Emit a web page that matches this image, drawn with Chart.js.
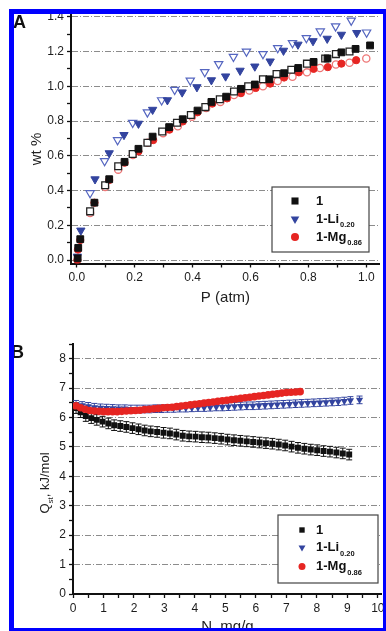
<!DOCTYPE html>
<html>
<head>
<meta charset="utf-8">
<script src="https://cdn.jsdelivr.net/npm/chart.js@4.4.1/dist/chart.umd.min.js"></script>
<style>
  html, body { margin: 0; padding: 0; background: #fff; }
  body { width: 386px; height: 631px; overflow: hidden; position: relative; }
  #chart-a { position: absolute; left: 0; top: 0; }
  #chart-b { position: absolute; left: 0; top: 305px; }
  .panel-label { position: absolute; font: bold 18px/18px "Liberation Sans", Arial, sans-serif; color: #111; }
  #frame { position: absolute; left: 9px; top: 9px; width: 369px; height: 614px; border: 5px solid #0000ff; pointer-events: none; }
</style>
</head>
<body>
<canvas id="chart-a" width="386" height="310"></canvas>
<canvas id="chart-b" width="386" height="340"></canvas>
<div class="panel-label" style="left:13px; top:13px;">A</div>
<div class="panel-label" style="left:11px; top:343px;">B</div>
<div id="frame"></div>
<script>
// ---- panel A : uptake (wt %) vs pressure (atm), filled = adsorption, open = desorption
const pAds1 = [0.003, 0.005, 0.012, 0.061, 0.112, 0.165, 0.213, 0.262, 0.319, 0.366, 0.417, 0.465, 0.516, 0.567, 0.615, 0.665, 0.716, 0.765, 0.818, 0.866, 0.914, 0.963, 1.013];
const wtAds1 = [0.01, 0.07, 0.12, 0.33, 0.465, 0.565, 0.64, 0.71, 0.765, 0.81, 0.86, 0.91, 0.94, 0.985, 1.01, 1.04, 1.075, 1.105, 1.14, 1.16, 1.195, 1.215, 1.235];
const pDes1 = [0.046, 0.098, 0.143, 0.193, 0.244, 0.295, 0.346, 0.394, 0.444, 0.494, 0.543, 0.592, 0.643, 0.69, 0.741, 0.795, 0.858, 0.895, 0.942];
const wtDes1 = [0.28, 0.43, 0.54, 0.61, 0.675, 0.74, 0.79, 0.835, 0.88, 0.925, 0.97, 1.0, 1.04, 1.07, 1.095, 1.13, 1.16, 1.185, 1.2];

const pAdsLi = [0.002, 0.014, 0.063, 0.112, 0.163, 0.213, 0.262, 0.313, 0.364, 0.415, 0.465, 0.514, 0.564, 0.615, 0.668, 0.714, 0.764, 0.816, 0.865, 0.914, 0.967];
const wtAdsLi = [0.02, 0.17, 0.465, 0.615, 0.72, 0.785, 0.865, 0.92, 0.965, 0.995, 1.035, 1.057, 1.09, 1.114, 1.143, 1.205, 1.24, 1.26, 1.274, 1.297, 1.307];
const pDesLi = [0.046, 0.096, 0.141, 0.193, 0.244, 0.293, 0.338, 0.392, 0.442, 0.49, 0.541, 0.586, 0.643, 0.694, 0.745, 0.793, 0.841, 0.894, 0.948, 1.001];
const wtDesLi = [0.385, 0.57, 0.69, 0.79, 0.85, 0.92, 0.98, 1.033, 1.082, 1.128, 1.17, 1.2, 1.186, 1.22, 1.249, 1.278, 1.316, 1.345, 1.378, 1.31];

const pAdsMg = [0.002, 0.004, 0.012, 0.061, 0.112, 0.165, 0.213, 0.264, 0.32, 0.366, 0.417, 0.468, 0.519, 0.567, 0.618, 0.668, 0.716, 0.767, 0.818, 0.867, 0.914, 0.965];
const wtAdsMg = [0.0, 0.06, 0.115, 0.33, 0.46, 0.56, 0.625, 0.69, 0.75, 0.797, 0.85, 0.9, 0.93, 0.96, 0.99, 1.015, 1.05, 1.08, 1.1, 1.11, 1.13, 1.15];
const pDesMg = [0.046, 0.098, 0.143, 0.194, 0.245, 0.298, 0.349, 0.398, 0.447, 0.496, 0.543, 0.596, 0.643, 0.694, 0.745, 0.795, 0.84, 0.895, 0.942, 1.0];
const wtDesMg = [0.27, 0.42, 0.52, 0.605, 0.675, 0.73, 0.77, 0.825, 0.875, 0.91, 0.95, 0.975, 1.0, 1.03, 1.055, 1.08, 1.105, 1.125, 1.135, 1.16];

// ---- panel B : isosteric heat Qst (kJ/mol) vs loading N (mg/g)
const n1 = [0.10, 0.25, 0.42, 0.60, 0.78, 0.97, 1.16, 1.35, 1.55, 1.75, 1.95, 2.15, 2.35, 2.55, 2.76, 2.97, 3.18, 3.39, 3.60, 3.81, 4.02, 4.23, 4.44, 4.65, 4.86, 5.07, 5.28, 5.49, 5.70, 5.91, 6.12, 6.33, 6.54, 6.75, 6.96, 7.17, 7.38, 7.59, 7.80, 8.01, 8.22, 8.43, 8.64, 8.85, 9.06];
const q1 = [6.32, 6.18, 6.05, 5.98, 5.92, 5.86, 5.80, 5.74, 5.71, 5.68, 5.64, 5.60, 5.56, 5.53, 5.51, 5.48, 5.46, 5.42, 5.38, 5.36, 5.35, 5.33, 5.32, 5.30, 5.28, 5.25, 5.23, 5.21, 5.19, 5.17, 5.15, 5.13, 5.11, 5.08, 5.05, 5.01, 4.97, 4.94, 4.91, 4.89, 4.86, 4.84, 4.81, 4.78, 4.74];
const nLi = [0.10, 0.30, 0.50, 0.70, 0.90, 1.10, 1.30, 1.50, 1.70, 1.90, 2.10, 2.30, 2.50, 2.70, 2.90, 3.10, 3.30, 3.50, 3.70, 3.90, 4.10, 4.30, 4.50, 4.70, 4.90, 5.10, 5.30, 5.50, 5.70, 5.90, 6.10, 6.30, 6.50, 6.70, 6.90, 7.10, 7.30, 7.50, 7.70, 7.90, 8.10, 8.30, 8.50, 8.70, 8.90, 9.10, 9.40];
const qLi = [6.45, 6.41, 6.38, 6.35, 6.33, 6.32, 6.31, 6.30, 6.30, 6.29, 6.29, 6.29, 6.29, 6.30, 6.30, 6.31, 6.31, 6.32, 6.32, 6.33, 6.34, 6.34, 6.35, 6.36, 6.36, 6.37, 6.38, 6.39, 6.40, 6.40, 6.41, 6.42, 6.43, 6.44, 6.45, 6.46, 6.47, 6.48, 6.49, 6.50, 6.51, 6.52, 6.53, 6.54, 6.56, 6.58, 6.60];
const nMg = [0.10, 0.25, 0.40, 0.55, 0.70, 0.85, 1.00, 1.15, 1.30, 1.45, 1.60, 1.75, 1.90, 2.05, 2.20, 2.35, 2.50, 2.65, 2.80, 2.95, 3.10, 3.25, 3.40, 3.55, 3.70, 3.85, 4.00, 4.15, 4.30, 4.45, 4.60, 4.75, 4.90, 5.05, 5.20, 5.35, 5.50, 5.65, 5.80, 5.95, 6.10, 6.25, 6.40, 6.55, 6.70, 6.85, 7.00, 7.15, 7.30, 7.45];
const qMg = [6.40, 6.33, 6.28, 6.24, 6.22, 6.21, 6.20, 6.20, 6.20, 6.20, 6.21, 6.22, 6.23, 6.24, 6.25, 6.27, 6.28, 6.30, 6.31, 6.33, 6.34, 6.35, 6.37, 6.39, 6.41, 6.43, 6.45, 6.47, 6.49, 6.51, 6.53, 6.55, 6.57, 6.59, 6.61, 6.63, 6.65, 6.67, 6.69, 6.71, 6.73, 6.75, 6.77, 6.79, 6.81, 6.83, 6.85, 6.86, 6.87, 6.88];
const err1 = 0.18;
const errLi = 0.13;
const errMg = 0.05;

const seriesNames = ["1", "1-Li", "1-Mg"];
const seriesSubs = ["", "0.20", "0.86"];

const black = "#111111";
const blue = "#33449f";
const blueOpen = "#5566c0";
const red = "#e62522";
const redOpen = "#ee7777";
const fontFamily = '"Liberation Sans", Arial, sans-serif';

Chart.defaults.font.family = fontFamily;
Chart.defaults.color = "#1c1c1c";

function toPoints(xs, ys) {
  return xs.map((x, i) => ({ x: x, y: ys[i] }));
}

function isMajor(v, major) {
  const r = v / major;
  return Math.abs(r - Math.round(r)) < 1e-6;
}

// draws a small marker for the legend
function drawMarker(ctx, style, x, y, r, color) {
  ctx.fillStyle = color;
  ctx.beginPath();
  if (style === "rect") {
    const s = r * Math.SQRT1_2;
    ctx.rect(x - s, y - s, 2 * s, 2 * s);
  } else if (style === "triangle") {
    ctx.moveTo(x - r * 0.866, y - r * 0.5);
    ctx.lineTo(x + r * 0.866, y - r * 0.5);
    ctx.lineTo(x, y + r);
    ctx.closePath();
  } else {
    ctx.arc(x, y, r, 0, Math.PI * 2);
  }
  ctx.fill();
}

const legendBox = {
  id: "legendBox",
  afterDraw(chart, args, opts) {
    const ctx = chart.ctx;
    ctx.save();
    ctx.fillStyle = "#fff";
    ctx.fillRect(opts.x, opts.y, opts.w, opts.h);
    ctx.strokeStyle = "#444";
    ctx.lineWidth = 1.2;
    ctx.strokeRect(opts.x, opts.y, opts.w, opts.h);
    const styles = ["rect", "triangle", "circle"];
    const colors = [black, blue, red];
    seriesNames.forEach((name, i) => {
      const y = opts.rows[i];
      drawMarker(ctx, styles[i], opts.markX, y, opts.sizes[i], colors[i]);
      ctx.fillStyle = "#111";
      ctx.textBaseline = "middle";
      ctx.font = "bold 13px " + fontFamily;
      ctx.fillText(name, opts.textX, y);
      if (seriesSubs[i]) {
        const w = ctx.measureText(name).width;
        ctx.font = "bold 7.5px " + fontFamily;
        ctx.fillText(seriesSubs[i], opts.textX + w + 1, y + 6);
      }
    });
    ctx.restore();
  },
};

// rotated y title, with optional subscript
const yTitle = {
  id: "yTitle",
  afterDraw(chart, args, opts) {
    const ctx = chart.ctx;
    const mainFont = opts.size + "px " + fontFamily;
    const subFont = Math.round(opts.size * 0.62) + "px " + fontFamily;
    ctx.save();
    ctx.translate(opts.x, opts.y);
    ctx.rotate(-Math.PI / 2);
    ctx.fillStyle = "#222";
    ctx.textBaseline = "alphabetic";
    ctx.font = mainFont;
    const w1 = ctx.measureText(opts.text).width;
    const w3 = opts.after ? ctx.measureText(opts.after).width : 0;
    ctx.font = subFont;
    const w2 = opts.sub ? ctx.measureText(opts.sub).width : 0;
    let cx = -(w1 + w2 + w3) / 2;
    const base = opts.size * 0.36;
    ctx.font = mainFont;
    ctx.fillText(opts.text, cx, base);
    cx += w1;
    if (opts.sub) {
      ctx.font = subFont;
      ctx.fillText(opts.sub, cx, base + opts.size * 0.3);
      cx += w2;
    }
    if (opts.after) {
      ctx.font = mainFont;
      ctx.fillText(opts.after, cx, base);
    }
    ctx.restore();
  },
};

// vertical error bars taken from each dataset's errorBar value
const errorBars = {
  id: "errorBars",
  beforeDatasetsDraw(chart) {
    const { ctx, scales } = chart;
    chart.data.datasets.forEach((ds) => {
      if (!ds.errorBar) return;
      ctx.save();
      ctx.strokeStyle = ds.borderColor;
      ctx.lineWidth = 1;
      ds.data.forEach((p) => {
        const px = scales.x.getPixelForValue(p.x);
        const top = scales.y.getPixelForValue(p.y + ds.errorBar);
        const bottom = scales.y.getPixelForValue(p.y - ds.errorBar);
        ctx.beginPath();
        ctx.moveTo(px, top);
        ctx.lineTo(px, bottom);
        ctx.moveTo(px - 3, top);
        ctx.lineTo(px + 3, top);
        ctx.moveTo(px - 3, bottom);
        ctx.lineTo(px + 3, bottom);
        ctx.stroke();
      });
      ctx.restore();
    });
  },
};

function axis(min, max, step, major, digits, opts) {
  return {
    type: "linear",
    min: min,
    max: max,
    border: { color: "#111", width: 2, dash: [6, 2, 1, 2] },
    grid: {
      drawOnChartArea: opts.gridLines,
      color: (c) => (c.tick && isMajor(c.tick.value, major) ? "#8c8c8c" : "rgba(0,0,0,0)"),
      lineWidth: 1,
      tickColor: "#111",
      tickLength: 4,
      tickWidth: 1.3,
    },
    ticks: {
      stepSize: step,
      includeBounds: false,
      autoSkip: false,
      maxRotation: 0,
      padding: 3,
      font: { size: 12 },
      callback: (v) => (isMajor(v, major) ? v.toFixed(digits) : ""),
    },
    title: opts.title || { display: false },
    afterFit: (scale) => {
      if (opts.width) scale.width = opts.width;
      if (opts.height) scale.height = opts.height;
      scale.paddingLeft = 0;
      scale.paddingRight = 0;
      scale.paddingTop = 0;
      scale.paddingBottom = 0;
    },
  };
}

// ---------------- Panel A
new Chart(document.getElementById("chart-a"), {
  type: "scatter",
  data: {
    datasets: [
      { data: toPoints(pAds1, wtAds1), pointStyle: "rect", pointRadius: 4.8, backgroundColor: black, borderColor: black, borderWidth: 1 },
      { data: toPoints(pDes1, wtDes1), pointStyle: "rect", pointRadius: 4.8, backgroundColor: "#fff", borderColor: "#222", borderWidth: 1.3 },
      { data: toPoints(pAdsMg, wtAdsMg), pointStyle: "circle", pointRadius: 3.6, backgroundColor: red, borderColor: red, borderWidth: 1 },
      { data: toPoints(pDesMg, wtDesMg), pointStyle: "circle", pointRadius: 3.6, backgroundColor: "#fff", borderColor: redOpen, borderWidth: 1.3 },
      { data: toPoints(pAdsLi, wtAdsLi), pointStyle: "triangle", pointRotation: 180, pointRadius: 4.8, backgroundColor: blue, borderColor: blue, borderWidth: 1 },
      { data: toPoints(pDesLi, wtDesLi), pointStyle: "triangle", pointRotation: 180, pointRadius: 4.8, backgroundColor: "#fff", borderColor: blueOpen, borderWidth: 1.2 },
    ],
  },
  options: {
    responsive: false,
    animation: false,
    layout: { padding: { top: 15, right: 0, bottom: 0, left: 0 } },
    scales: {
      x: axis(-0.02, 1.047, 0.1, 0.2, 1, {
        gridLines: false,
        height: 46.5,
        title: { display: true, text: "P (atm)", color: "#222", font: { size: 15 }, padding: { top: 0, bottom: 3 } },
      }),
      y: axis(-0.02, 1.41, 0.1, 0.2, 1, { gridLines: true, width: 71 }),
    },
    plugins: {
      legend: { display: false },
      tooltip: { enabled: false },
      yTitle: { text: "wt %", x: 36, y: 149, size: 15 },
      legendBox: { x: 272, y: 187, w: 97, h: 65, markX: 295, textX: 316, rows: [201, 219, 237], sizes: [5, 5, 4] },
    },
  },
  plugins: [yTitle, legendBox],
});

// ---------------- Panel B
new Chart(document.getElementById("chart-b"), {
  type: "scatter",
  data: {
    datasets: [
      { data: toPoints(nMg, qMg), errorBar: errMg, pointStyle: "circle", pointRadius: 3.8, backgroundColor: red, borderColor: red, borderWidth: 0 },
      { data: toPoints(nLi, qLi), errorBar: errLi, pointStyle: "triangle", pointRotation: 180, pointRadius: 4.2, backgroundColor: blue, borderColor: blue, borderWidth: 0 },
      { data: toPoints(n1, q1), errorBar: err1, pointStyle: "rect", pointRadius: 4.2, backgroundColor: black, borderColor: black, borderWidth: 0 },
    ],
  },
  options: {
    responsive: false,
    animation: false,
    layout: { padding: { top: 39, right: 0, bottom: 0, left: 0 } },
    scales: {
      x: axis(0, 10.13, 0.5, 1, 0, {
        gridLines: false,
        height: 51,
        title: { display: true, text: "N, mg/g", color: "#222", font: { size: 15 }, padding: { top: 0, bottom: 9 } },
      }),
      y: axis(0, 8.5, 0.5, 1, 0, { gridLines: true, width: 73 }),
    },
    plugins: {
      legend: { display: false },
      tooltip: { enabled: false },
      yTitle: { text: "Q", sub: "st", after: ", kJ/mol", x: 44, y: 178, size: 13 },
      legendBox: { x: 278, y: 210, w: 100, h: 68, markX: 302, textX: 316, rows: [225, 242.5, 261.5], sizes: [3.8, 4, 3.5] },
    },
  },
  plugins: [errorBars, yTitle, legendBox],
});
</script>
</body>
</html>
